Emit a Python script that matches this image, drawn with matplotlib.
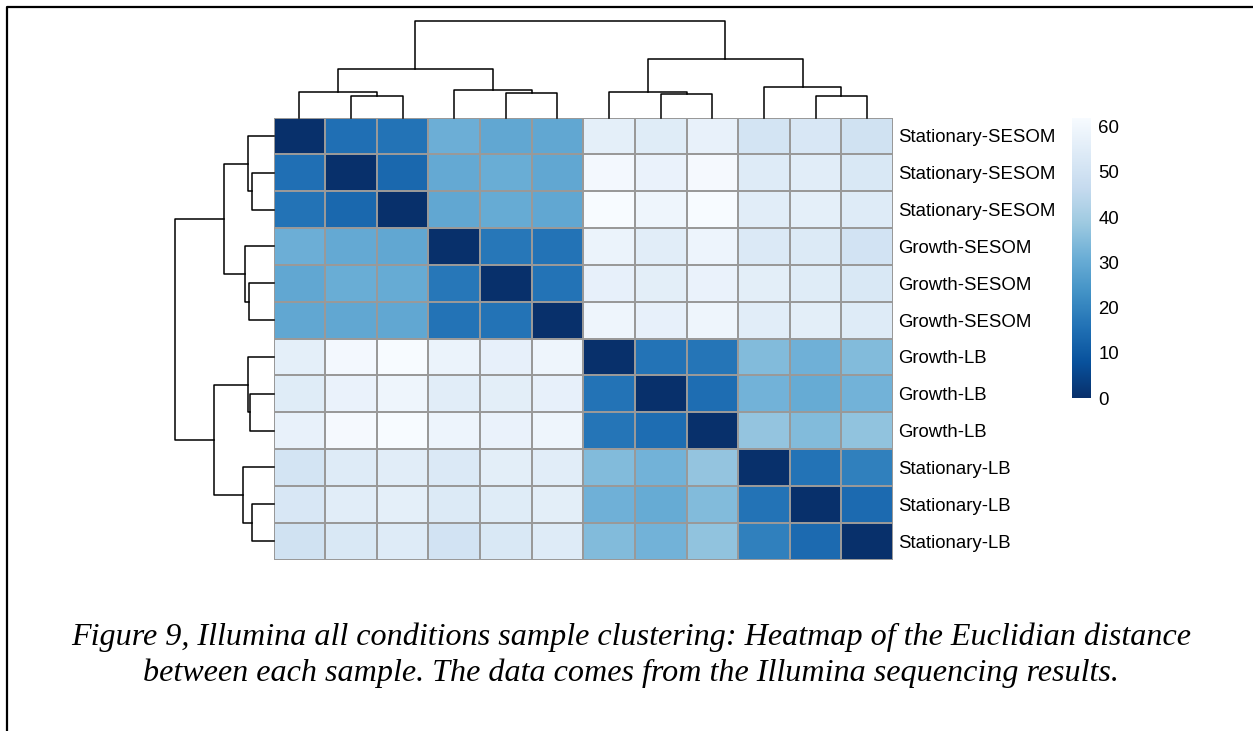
import numpy as np
import matplotlib
matplotlib.use("Agg")
import matplotlib.pyplot as plt
from matplotlib.lines import Line2D

# sample labels in clustered order
labels = ["Stationary-SESOM", "Stationary-SESOM", "Stationary-SESOM",
          "Growth-SESOM", "Growth-SESOM", "Growth-SESOM",
          "Growth-LB", "Growth-LB", "Growth-LB",
          "Stationary-LB", "Stationary-LB", "Stationary-LB"]

# euclidean distances between samples (same order as labels)
dist = np.array([
    [0.0, 15.0, 16.0, 31.0, 29.0, 29.0, 56.0, 54.5, 57.0, 50.5, 52.0, 49.5],
    [15.0, 0.0, 13.5, 29.5, 30.5, 29.0, 60.5, 57.5, 61.0, 54.0, 55.0, 52.5],
    [16.0, 13.5, 0.0, 29.0, 30.0, 29.0, 61.8, 59.0, 61.8, 55.0, 56.0, 54.0],
    [31.0, 29.5, 29.0, 0.0, 17.0, 16.0, 58.0, 55.0, 58.5, 53.0, 53.5, 50.0],
    [29.0, 30.5, 30.0, 17.0, 0.0, 16.0, 56.5, 55.5, 57.5, 55.5, 54.5, 52.5],
    [29.0, 29.0, 29.0, 16.0, 16.0, 0.0, 59.0, 56.5, 59.0, 55.0, 55.5, 54.0],
    [56.0, 60.5, 61.8, 58.0, 56.5, 59.0, 0.0, 16.0, 16.5, 34.5, 31.5, 34.5],
    [54.5, 57.5, 59.0, 55.0, 55.5, 56.5, 16.0, 0.0, 14.5, 32.0, 30.0, 32.0],
    [57.0, 61.0, 61.8, 58.5, 57.5, 59.0, 16.5, 14.5, 0.0, 37.0, 34.5, 36.5],
    [50.5, 54.0, 55.0, 53.0, 55.5, 55.0, 34.5, 32.0, 37.0, 0.0, 16.0, 19.0],
    [52.0, 55.0, 56.0, 53.5, 54.5, 55.5, 31.5, 30.0, 34.5, 16.0, 0.0, 14.0],
    [49.5, 52.5, 54.0, 50.0, 52.5, 54.0, 34.5, 32.0, 36.5, 19.0, 14.0, 0.0],
])

# hierarchical clustering merges: (left node, right node, height); new nodes numbered from 12
merges = [(1, 2, 21.3), (10, 11, 21.5), (7, 8, 23.5), (4, 5, 24.6),
          (0, 12, 25.5), (6, 14, 25.6), (3, 15, 27.8), (9, 13, 30.3),
          (16, 18, 49.0), (17, 19, 58.5), (20, 21, 97.5)]

caption = ("Figure 9, Illumina all conditions sample clustering: Heatmap of the Euclidian distance\n"
           "between each sample. The data comes from the Illumina sequencing results.")

W, H = 1253, 731
fig = plt.figure(figsize=(W / 100, H / 100), dpi=100)

def px(x0, y0, x1, y1):
    return [x0 / W, 1 - y1 / H, (x1 - x0) / W, (y1 - y0) / H]

n = len(labels)
vmin, vmax = dist.min(), dist.max()
hm_l, hm_r, hm_t, hm_b = 273.5, 893, 117.5, 559.5

# heatmap
ax = fig.add_axes(px(hm_l, hm_t, hm_r, hm_b))
ax.pcolormesh(np.arange(n + 1), np.arange(n + 1), dist, cmap="Blues_r", vmin=vmin, vmax=vmax,
              edgecolors="#999999", linewidth=1.2)
ax.set_xlim(0, n); ax.set_ylim(n, 0)
ax.set_xticks([]); ax.yaxis.tick_right()
ax.set_yticks(np.arange(n) + 0.5, labels, fontsize=13.4, family="Liberation Sans")
ax.tick_params(axis="y", length=0, pad=3.5)
for s in ax.spines.values():
    s.set_visible(False)

# dendrogram segments from the merge list
pos = {i: i + 0.5 for i in range(n)}
hgt = {i: 0.0 for i in range(n)}
links = []
for k, (a, b, h) in enumerate(merges):
    links.append((pos[a], hgt[a], pos[b], hgt[b], h))
    pos[n + k] = (pos[a] + pos[b]) / 2; hgt[n + k] = h
top_h = merges[-1][2]

axt = fig.add_axes(px(hm_l, 20.5, hm_r, hm_t))
for xa, ha, xb, hb, h in links:
    axt.plot([xa, xa, xb, xb], [ha, h, h, hb], color="black", lw=1.1, clip_on=False)
axt.set_xlim(0, n); axt.set_ylim(0, top_h); axt.axis("off")

axl = fig.add_axes(px(175, hm_t, hm_l, hm_b))
for xa, ha, xb, hb, h in links:
    axl.plot([ha, h, h, hb], [xa, xa, xb, xb], color="black", lw=1.1, clip_on=False)
axl.set_ylim(n, 0); axl.set_xlim(top_h, 0); axl.axis("off")

# colour legend
axc = fig.add_axes(px(1072, 118.3, 1090.7, 398.3))
grad = np.linspace(vmin, vmax, 256).reshape(-1, 1)
axc.imshow(grad, cmap="Blues_r", aspect="auto", origin="lower", extent=(0, 1, vmin, vmax))
axc.set_xlim(0, 1); axc.set_ylim(vmin, vmax)
axc.set_xticks([]); axc.yaxis.tick_right()
axc.set_yticks([0, 10, 20, 30, 40, 50, 60])
axc.tick_params(axis="y", length=0, pad=5.5, labelsize=13.4)
for t in axc.get_yticklabels():
    t.set_family("Liberation Sans")
for s in axc.spines.values():
    s.set_visible(False)

# caption and page frame
fig.text(631 / W, 1 - 655 / H, caption, ha="center", va="center", fontsize=23.1,
         family="Liberation Serif", style="italic", linespacing=1.27)
fig.add_artist(Line2D([7 / W, 7 / W, 1], [0, 1 - 7 / H, 1 - 7 / H], color="black", lw=1.6,
                      transform=fig.transFigure))

fig.savefig("out.png", dpi=100)
